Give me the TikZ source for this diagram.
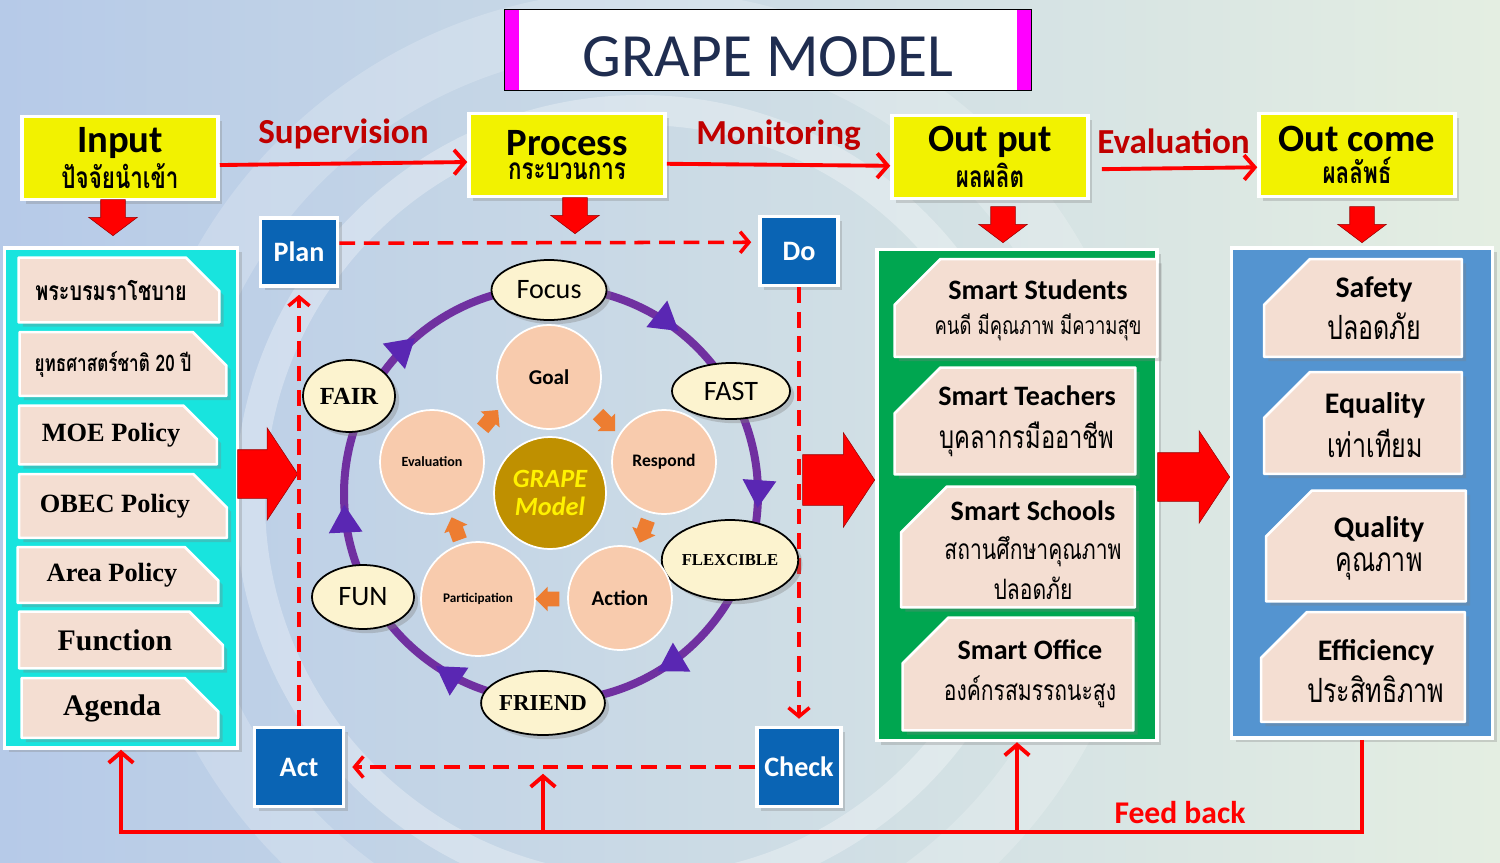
\documentclass[tikz,border=0pt]{standalone}
\usepackage{fontspec}
\setmainfont{Carlito}
\newfontfamily\thaifont[Script=Thai, FakeStretch=0.75]{Loma}
\newfontfamily\tnrfont{Liberation Serif}
\usepackage{tikz}
\usetikzlibrary{arrows.meta, calc, shadows, shapes.arrows, shapes.geometric, decorations.markings}

\definecolor{bgblue}{RGB}{182,202,232}
\definecolor{bggreen}{RGB}{228,238,226}
\definecolor{phaseyellow}{RGB}{242,242,0}
\definecolor{darkred}{RGB}{192,0,0}
\definecolor{pdcablue}{RGB}{10,100,180}
\definecolor{panelcyan}{RGB}{24,228,222}
\definecolor{panelgreen}{RGB}{0,166,80}
\definecolor{panelblue}{RGB}{84,148,208}
\definecolor{itembeige}{RGB}{244,222,210}
\definecolor{ellcream}{RGB}{252,243,207}
\definecolor{peach}{RGB}{248,203,173}
\definecolor{gold}{RGB}{191,144,0}
\definecolor{arrorange}{RGB}{237,125,49}
\definecolor{cyclepurple}{RGB}{112,48,160}
\definecolor{titlenavy}{RGB}{31,45,80}
\definecolor{magentabar}{RGB}{255,0,255}

\newcommand{\pxu}{0.02cm}
\newcommand{\phasetext}[2]{{\fontsize{22}{22}\selectfont\bfseries #1}\\[2pt]\thaifont\bfseries\fontsize{17}{18}\selectfont #2}
\newcommand{\smarttext}[2]{{\fontsize{16}{16}\selectfont\bfseries #1}\\[8pt]\thaifont\fontsize{14}{22}\selectfont #2}
\newcommand{\goaltext}[2]{{\fontsize{17}{17}\selectfont\bfseries #1}\\[5pt]\thaifont\fontsize{19}{23}\selectfont #2}
% chamfered item outlines, drawn round an empty node
\newcommand{\cutne}[2]{\filldraw[itemshape] (#1.south west) -- (#1.north west) -- ([xshift=-#2]#1.north east) -- ([yshift=-#2]#1.north east) -- (#1.south east) -- cycle;}
\newcommand{\cutnw}[2]{\filldraw[itemshape] (#1.south west) -- ([yshift=-#2]#1.north west) -- ([xshift=#2]#1.north west) -- (#1.north east) -- (#1.south east) -- cycle;}

\begin{document}
\begin{tikzpicture}[x=0.02cm, y=-0.02cm,
  phasebox/.style={draw=white, line width=2pt, fill=phaseyellow, minimum width=196*\pxu,
    minimum height=83*\pxu, align=center, inner sep=0pt, drop shadow={opacity=0.3}},
  flow/.style={red, line width=2.2pt, -{Straight Barb[length=6pt, width=14pt]}},
  flowlabel/.style={text=darkred, font=\fontsize{20}{20}\selectfont\bfseries, above=4pt},
  downarrow/.style={single arrow, fill=red, draw=red!60!black, line width=0.3pt, rotate=-90, anchor=tip,
    minimum height=36*\pxu, inner xsep=0pt, inner ysep=12*\pxu, single arrow head extend=12*\pxu,
    single arrow tip angle=106, single arrow head indent=0pt},
  bigarrow/.style={single arrow, fill=red, draw=red!60!black, line width=0.3pt, anchor=tip,
    inner xsep=0pt, inner ysep=24*\pxu, single arrow head extend=22*\pxu,
    single arrow tip angle=113, single arrow head indent=0pt},
  panel/.style={draw=white, line width=2pt, inner sep=0pt, drop shadow={opacity=0.3}},
  itembox/.style={inner sep=0pt, minimum width=200*\pxu, minimum height=58*\pxu},
  itemshape/.style={fill=itembeige, draw=white, line width=1.5pt, line join=round, drop shadow={opacity=0.3}},
  intext/.style={inner sep=0pt, font=\tnrfont\bfseries\fontsize{15}{15}\selectfont},
  thaitext/.style={inner sep=0pt, font=\thaifont\bfseries\fontsize{15}{15}\selectfont},
  outtext/.style={inner sep=0pt, align=center},
  pdca/.style={fill=pdcablue, draw=white, line width=2pt, text=white, inner sep=0pt,
    font=\fontsize{16}{16}\selectfont\bfseries, drop shadow={opacity=0.3}},
  pdcaflow/.style={red, line width=2pt, dash pattern=on 9pt off 5pt,
    -{Straight Barb[length=5pt, width=12pt]}},
  cyclering/.style={draw=cyclepurple, line width=8*\pxu, postaction={decorate},
    decoration={markings,
      mark=at position 0.106 with {\arrow[cyclepurple!80!blue]{Triangle[length=16pt, width=18pt]}},
      mark=at position 0.261 with {\arrow[cyclepurple!80!blue]{Triangle[length=16pt, width=18pt]}},
      mark=at position 0.414 with {\arrow[cyclepurple!80!blue]{Triangle[length=16pt, width=18pt]}},
      mark=at position 0.594 with {\arrow[cyclepurple!80!blue]{Triangle[length=16pt, width=18pt]}},
      mark=at position 0.742 with {\arrow[cyclepurple!80!blue]{Triangle[length=16pt, width=18pt]}},
      mark=at position 0.886 with {\arrow[cyclepurple!80!blue]{Triangle[length=16pt, width=18pt]}}}},
  ell/.style={ellipse, draw=black, line width=1pt, fill=ellcream, inner sep=0pt,
    drop shadow={opacity=0.35}},
  stage/.style={circle, fill=peach, draw=white, line width=1pt, inner sep=0pt, minimum size=104*\pxu,
    font=\bfseries},
  turn/.style={single arrow, fill=arrorange, minimum height=24*\pxu, inner xsep=0pt, inner ysep=7*\pxu,
    single arrow head extend=5*\pxu, single arrow head indent=0pt},
  fb/.style={red, line width=2.2pt}
]

  % background
  \useasboundingbox (0,0) rectangle (1500,862);
  \fill[left color=bgblue, right color=bggreen] (0,0) rectangle (1500,862);
  \draw[white, opacity=0.3, line width=30*\pxu] (640,500) circle (390*\pxu);
  \draw[white, opacity=0.2, line width=60*\pxu] (640,500) circle (480*\pxu);

  % title
  \node[draw=black, line width=0.8pt, fill=white, minimum width=527*\pxu, minimum height=81*\pxu,
    text=titlenavy, font=\fontsize{35}{35}\selectfont, text height=30pt, text depth=0pt,
    path picture={
      \fill[magentabar] (path picture bounding box.south west) rectangle ([xshift=8pt]path picture bounding box.north west);
      \fill[magentabar] (path picture bounding box.south east) rectangle ([xshift=-8pt]path picture bounding box.north east);
    }] (title) at (768,50) {GRAPE MODEL};

  % phases
  \node[phasebox] (input) at (120,158) {\phasetext{Input}{ปัจจัยนำเข้า}};
  \node[phasebox] (process) at (567,155) {\phasetext{Process}{กระบวนการ}};
  \node[phasebox] (output) at (990,157) {\phasetext{Out put}{ผลผลิต}};
  \node[phasebox] (outcome) at (1357,155) {\phasetext{Out come}{ผลลัพธ์}};

  \draw[flow] ([yshift=-4pt]input.east) -- node[flowlabel]{Supervision} ([yshift=-4pt]process.west);
  \draw[flow] ([yshift=-5pt]process.east) -- node[flowlabel]{Monitoring} ([yshift=-5pt]output.west);
  \draw[flow, shorten <=12*\pxu] ([yshift=-7pt]output.east) -- node[flowlabel]{Evaluation} ([yshift=-7pt]outcome.west);

  \node[downarrow] (inArr) at (113,236) {};
  \node[downarrow] (procArr) at (575,234) {};
  \node[downarrow] (outArr) at (1003,243) {};
  \node[downarrow] (comeArr) at (1362,243) {};

  % input panel
  \node[panel, fill=panelcyan, minimum width=233*\pxu, minimum height=500*\pxu] (inPanel) at (121,498) {};
  \node[itembox, minimum height=64*\pxu] (policy1) at (119,290) {};
  \node[itembox, minimum width=206*\pxu, minimum height=63*\pxu] (policy2) at (123,364) {};
  \node[itembox, minimum width=197*\pxu] (policy3) at (118,435) {};
  \node[itembox, minimum width=207*\pxu, minimum height=63*\pxu] (policy4) at (123,506) {};
  \node[itembox, minimum height=55*\pxu] (policy5) at (118,575) {};
  \node[itembox, minimum width=203*\pxu, minimum height=56*\pxu] (policy6) at (121,640) {};
  \node[itembox, minimum width=196*\pxu, minimum height=59*\pxu] (policy7) at (120,708) {};
  \cutne{policy1}{19pt} \cutne{policy2}{19pt} \cutne{policy3}{19pt} \cutne{policy4}{19pt}
  \cutne{policy5}{19pt} \cutne{policy6}{19pt} \cutne{policy7}{19pt}

  \node[thaitext] (policy1Text) at ($(policy1)+(-8,0)$) {พระบรมราโชบาย};
  \node[thaitext, font=\thaifont\bfseries\fontsize{13}{13}\selectfont] (policy2Text) at ($(policy2)+(-10,0)$) {ยุทธศาสตร์ชาติ 20 ปี};
  \node[intext] (policy3Text) at ($(policy3)+(-7,0)$) {MOE Policy};
  \node[intext] (policy4Text) at ($(policy4)+(-8,0)$) {OBEC Policy};
  \node[intext] (policy5Text) at ($(policy5)+(-6,0)$) {Area Policy};
  \node[intext, font=\tnrfont\bfseries\fontsize{17}{17}\selectfont] (policy6Text) at ($(policy6)+(-6,0)$) {Function};
  \node[intext, font=\tnrfont\bfseries\fontsize{17}{17}\selectfont] (policy7Text) at ($(policy7)+(-8,0)$) {Agenda};

  \node[bigarrow, minimum height=60*\pxu] (arrIn) at (298,474) {};

  % PDCA
  \node[pdca, minimum width=77*\pxu, minimum height=68*\pxu] (plan) at (299,252) {Plan};
  \node[pdca, minimum width=78*\pxu, minimum height=69*\pxu] (do) at (799,251) {Do};
  \node[pdca, minimum width=84*\pxu, minimum height=79*\pxu] (check) at (799,767) {Check};
  \node[pdca, minimum width=89*\pxu, minimum height=79*\pxu] (act) at (299,767) {Act};

  \draw[pdcaflow, shorten >=4pt] ([yshift=5pt]plan.east) -- ([yshift=5pt]do.west);
  \draw[pdcaflow, shorten >=4pt] (do) -- (check);
  \draw[pdcaflow, shorten >=4pt] (check) -- (act);
  \draw[pdcaflow, shorten >=4pt] (act) -- (plan);

  % cycle
  \begin{scope}[shift={(551,494)}, x=0.02cm, y=0.02cm]
    \draw[cyclering] (0,207) arc[start angle=90, end angle=-270, radius=207];
  \end{scope}

  \node[ell, minimum width=115*\pxu, minimum height=60*\pxu, font=\fontsize{16}{16}\selectfont] (focus) at (549,290) {Focus};
  \node[ell, minimum width=118*\pxu, minimum height=56*\pxu, font=\fontsize{16}{16}\selectfont] (fast) at (731,391) {FAST};
  \node[ell, minimum width=122*\pxu, minimum height=80*\pxu, font=\tnrfont\bfseries\fontsize{9.5}{9.5}\selectfont] (flexcible) at (730,560) {FLEXCIBLE};
  \node[ell, minimum width=122*\pxu, minimum height=64*\pxu, font=\tnrfont\bfseries\fontsize{13}{13}\selectfont] (friend) at (543,703) {FRIEND};
  \node[ell, minimum width=102*\pxu, minimum height=64*\pxu, font=\fontsize{16}{16}\selectfont] (fun) at (363,597) {FUN};
  \node[ell, minimum width=92*\pxu, minimum height=72*\pxu, font=\tnrfont\bfseries\fontsize{14}{14}\selectfont] (fair) at (349,396) {FAIR};

  \node[stage, font=\bfseries\fontsize{12}{12}\selectfont] (goal) at (549,377) {Goal};
  \node[stage, font=\bfseries\fontsize{10}{10}\selectfont] (respond) at (664,462) {Respond};
  \node[stage, font=\bfseries\fontsize{12}{12}\selectfont] (action) at (620,598) {Action};
  \node[stage, minimum size=114*\pxu, font=\bfseries\fontsize{7.5}{7.5}\selectfont] (participation) at (478,599) {Participation};
  \node[stage, font=\bfseries\fontsize{8}{8}\selectfont] (evaluation) at (432,462) {Evaluation};
  \node[circle, fill=gold, draw=white, line width=1pt, minimum size=112*\pxu, inner sep=0pt, align=center,
    text=yellow, font=\bfseries\itshape\fontsize{15}{16}\selectfont] (grape) at (550,493) {GRAPE\\Model};

  \node[turn, rotate=50] (turn1) at (488,422) {};
  \node[turn, rotate=-45] (turn2) at (604,420) {};
  \node[turn, rotate=-110] (turn3) at (645,528) {};
  \node[turn, rotate=180] (turn4) at (551,599) {};
  \node[turn, rotate=110] (turn5) at (457,532) {};

  \node[bigarrow, minimum height=72*\pxu, inner ysep=25*\pxu, single arrow head extend=22*\pxu] (arrProc) at (875,480) {};

  % output panel
  \node[panel, fill=panelgreen, minimum width=280*\pxu, minimum height=491*\pxu] (outPanel) at (1017,495) {};
  \node[itembox, minimum width=262*\pxu, minimum height=97*\pxu] (students) at (1026,308) {};
  \node[itembox, minimum width=240*\pxu, minimum height=106*\pxu] (teachers) at (1015,421) {};
  \node[itembox, minimum width=233*\pxu, minimum height=120*\pxu] (schools) at (1018,547) {};
  \node[itembox, minimum width=230*\pxu, minimum height=112*\pxu] (office) at (1018,674) {};
  \cutnw{students}{26pt} \cutnw{teachers}{26pt} \cutnw{schools}{26pt} \cutnw{office}{26pt}

  \node[outtext] (studentsText) at ($(students)+(12,2)$) {\smarttext{Smart Students}{คนดี มีคุณภาพ มีความสุข}};
  \node[outtext] (teachersText) at ($(teachers)+(12,0)$) {\smarttext{Smart Teachers}{\fontsize{18}{23}\selectfont บุคลากรมืออาชีพ}};
  \node[outtext] (schoolsText) at ($(schools)+(15,3)$) {\smarttext{Smart Schools}{\fontsize{16}{21}\selectfont สถานศึกษาคุณภาพ\\[5pt]\thaifont\fontsize{16}{19}\selectfont ปลอดภัย}};
  \node[outtext] (officeText) at ($(office)+(12,0)$) {\smarttext{Smart Office}{\fontsize{16}{23}\selectfont องค์กรสมรรถนะสูง}};

  \node[bigarrow, minimum height=72*\pxu] (arrOut) at (1230,477) {};

  % outcome panel
  \node[panel, fill=panelblue, minimum width=261*\pxu, minimum height=490*\pxu] (comePanel) at (1362,493) {};
  \node[itembox, minimum width=197*\pxu, minimum height=97*\pxu] (safety) at (1363,308) {};
  \node[itembox, minimum width=197*\pxu, minimum height=101*\pxu] (equality) at (1363,423) {};
  \node[itembox, minimum width=199*\pxu, minimum height=110*\pxu] (quality) at (1366,546) {};
  \node[itembox, minimum width=203*\pxu, minimum height=109*\pxu] (efficiency) at (1363,667) {};
  \cutnw{safety}{26pt} \cutnw{equality}{26pt} \cutnw{quality}{26pt} \cutnw{efficiency}{26pt}

  \node[outtext] (safetyText) at ($(safety)+(11,0)$) {\goaltext{Safety}{ปลอดภัย}};
  \node[outtext] (equalityText) at ($(equality)+(12,2)$) {\goaltext{Equality}{เท่าเทียม}};
  \node[outtext] (qualityText) at ($(quality)+(13,2)$) {\goaltext{Quality}{คุณภาพ}};
  \node[outtext] (efficiencyText) at ($(efficiency)+(13,4)$) {\goaltext{Efficiency}{ประสิทธิภาพ}};

  % feedback
  \draw[fb, -{Straight Barb[length=6pt, width=14pt]}] (comePanel.south) -- ++(0,92) coordinate (fbR) -| (inPanel.south);
  \draw[fb, -{Straight Barb[length=6pt, width=14pt]}] (outPanel.south |- fbR) -- (outPanel.south);
  \draw[fb, -{Straight Barb[length=6pt, width=14pt]}] (friend.south |- fbR) coordinate (fbM) -- ++(0,-58);
  \node[text=red, font=\fontsize{18}{18}\selectfont\bfseries] (fbLabel) at (1180,813) {Feed back};

\end{tikzpicture}
\end{document}
